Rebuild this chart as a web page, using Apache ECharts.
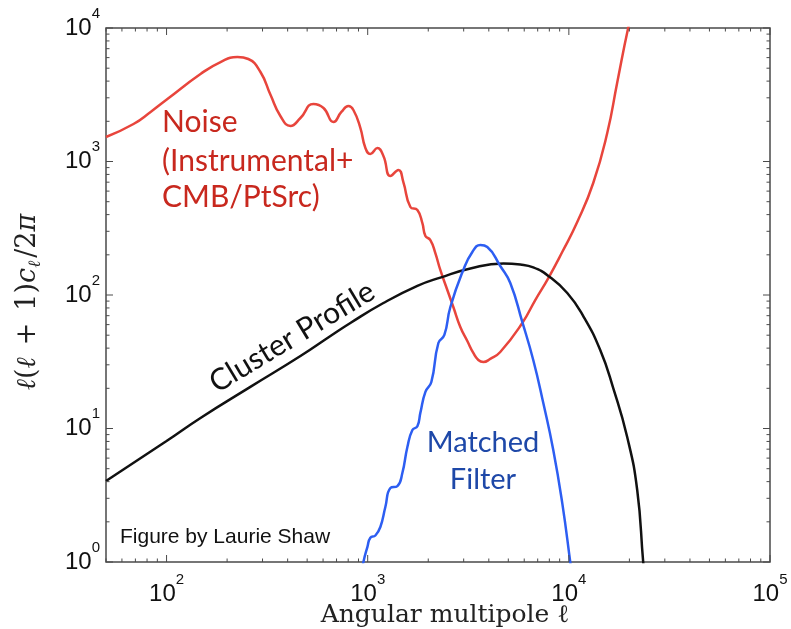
<!DOCTYPE html>
<html><head><meta charset="utf-8">
<script src="https://cdn.jsdelivr.net/npm/echarts@6/dist/echarts.min.js"></script>
<style>html,body{margin:0;padding:0;background:#fff}#c{width:791px;height:629px}</style>
</head><body><div id="c"></div>
<script>
// Noise (Instrumental + CMB/PtSrc)
const noiseL = [50,68.5,83.3,101,147.5,185.5,225,255,293,329,368,413,463,537,603,676,740,802,849,920,974,1031,1117,1197,1297,1421,1504,1630,1766,1870,1936,2049,2169,2296,2488,2665,2887,3128,3350,3548,3758,4069,4560,5868,6808,7907,9270,11010,13220,15520,17380,19720,21500];
const noiseV = [1526,1910,2350,2938,4520,5560,6065,5860,4680,3148,2193,1845,2117,2697,2515,1976,2350,2605,2431,1782,1262,1138,1262,1099,779,864,702,456,433,346,277,258,206,154,109,81.3,57.6,45.2,36.8,32.6,31.5,33.2,37.4,61.7,91.7,134,210,352,690,1634,3873,10000,17000];
// Matched filter
const filterL = [930,952,997,1031,1092,1156,1224,1297,1405,1487,1575,1668,1766,1827,1936,2072,2246,2405,2576,2987,3313,3630,3932,4560,5115,5868,6653,7464,8366,9270,10160,10400];
const filterV = [0.8,1,1.30,1.52,1.58,1.83,2.58,3.58,3.70,4.64,7.27,9.74,10.4,13.1,18.8,22.3,43.7,50.2,81.3,154,210,237,229,165,123,62.8,32.6,15.5,6.90,2.77,1,0.75];
// Cluster profile
const clusterL = [50,100,147.5,261,463,653,820,1197,1766,2296,3238,4722,5736,6653,7907,9820,11790,14320,16620,19500,21870,23420,24200];
const clusterV = [4.04,8.06,12.0,20.5,34.9,49.3,61.7,87.1,117,135,158,172,169,161,139,103.5,69.6,38.7,20.1,8.64,3.46,1,0.6];

const xMin = 50, xMax = 100000, yMin = 1, yMax = 10000;
// tick values (major = powers of ten, minor = 2..9 x 10^n)
const xMajor = [100, 1000, 10000, 100000];
const yMajor = [1, 10, 100, 1000, 10000];
const mult = [2,3,4,5,6,7,8,9];
const xMinor = [], yMinor = [];
[10,100,1000,10000].forEach(d => mult.forEach(m => { const v = m*d; if (v >= xMin && v <= xMax) xMinor.push(v); }));
[1,10,100,1000].forEach(d => mult.forEach(m => yMinor.push(m*d)));

const zip = (a, b) => a.map((v, i) => [v, b[i]]);
const chart = echarts.init(document.getElementById('c'), null, {renderer: 'canvas'});

const frame = '#4a4a4a';
const supRich = {
  b: {fontFamily: 'Liberation Sans', fontSize: 24, lineHeight: 44, color: '#111'},
  s: {fontFamily: 'Liberation Sans', fontSize: 15, height: 15, lineHeight: 44, verticalAlign: 'top', color: '#111'}
};
function powLabel(v) {
  const e = Math.log10(v);
  const r = Math.round(e);
  if (Math.abs(e - r) > 1e-6) return '';
  return '{b|10}{s|' + r + '}';
}

const xTickData = xMajor.map(v => [v, 1, 7]).concat(xMinor.map(v => [v, 1, 3.5]));
const yTickData = yMajor.map(v => [xMin, v, 7]).concat(yMinor.map(v => [xMin, v, 3.5]));

function tickX(params, api) {
  const v = api.value(0), len = api.value(2);
  const b = api.coord([v, yMin]), t = api.coord([v, yMax]);
  const st = {stroke: frame, lineWidth: 1};
  return {type: 'group', children: [
    {type: 'line', shape: {x1: b[0], y1: b[1], x2: b[0], y2: b[1] - len}, style: st},
    {type: 'line', shape: {x1: t[0], y1: t[1], x2: t[0], y2: t[1] + len}, style: st}
  ]};
}
function tickY(params, api) {
  const v = api.value(1), len = api.value(2);
  const l = api.coord([xMin, v]), r = api.coord([xMax, v]);
  const st = {stroke: frame, lineWidth: 1};
  return {type: 'group', children: [
    {type: 'line', shape: {x1: l[0], y1: l[1], x2: l[0] + len, y2: l[1]}, style: st},
    {type: 'line', shape: {x1: r[0], y1: r[1], x2: r[0] - len, y2: r[1]}, style: st}
  ]};
}

const annoFont = 'Lato';
const redText = '#c8281e', blueText = '#1e48a8';
const mathFont = {fontFamily: 'DejaVu Serif', fontSize: 27, color: '#222', lineHeight: 32};
chart.setOption({
  animation: false,
  backgroundColor: '#fff',
  grid: {left: 106, right: 21, top: 28, bottom: 67, containLabel: false, outerBoundsMode: 'none',
         show: true, borderColor: frame, borderWidth: 1.5, backgroundColor: 'transparent'},
  xAxis: {
    type: 'log', logBase: 10, min: xMin, max: xMax,
    axisLine: {show: false}, axisTick: {show: false}, splitLine: {show: false}, minorTick: {show: false},
    axisLabel: {formatter: powLabel, rich: supRich, margin: 10, showMinLabel: true, showMaxLabel: true, hideOverlap: false},
    name: 'Angular multipole ℓ', nameLocation: 'middle', nameGap: 41, nameMoveOverlap: false,
    nameTextStyle: {fontFamily: 'DejaVu Serif', fontSize: 25, color: '#222', padding: [0, 0, 0, 14]}
  },
  yAxis: {
    type: 'log', logBase: 10, min: yMin, max: yMax,
    axisLine: {show: false}, axisTick: {show: false}, splitLine: {show: false}, minorTick: {show: false},
    axisLabel: {formatter: powLabel, rich: supRich, margin: 6, showMinLabel: true, showMaxLabel: true, hideOverlap: false},
    name: '{i|ℓ}{r|(}{i|ℓ}{op|+}{r|1)}{i|c}{sub|ℓ}{r|/2}{end|π}', nameLocation: 'middle', nameGap: 62, nameRotate: 90, nameMoveOverlap: false,
    nameTextStyle: {
      rich: {
        i: Object.assign({}, mathFont, {fontStyle: 'italic'}),
        r: mathFont,
        op: Object.assign({}, mathFont, {padding: [0, 12, 0, 12]}),
        end: Object.assign({}, mathFont, {fontStyle: 'italic', padding: [0, 14, 0, 0]}),
        sub: {fontFamily: 'DejaVu Serif', fontStyle: 'italic', fontSize: 17, color: '#222', verticalAlign: 'bottom', height: 17, lineHeight: 32, padding: [0, 3, 0, 0]}
      }
    }
  },
  series: [
    {type: 'line', name: 'Noise', data: zip(noiseL, noiseV), showSymbol: false, smooth: 0.5, clip: true,
     lineStyle: {color: '#e8453c', width: 2.5}, z: 3},
    {type: 'line', name: 'Cluster Profile', data: zip(clusterL, clusterV), showSymbol: false, smooth: 0.5, clip: true,
     lineStyle: {color: '#111', width: 2.5}, z: 3},
    {type: 'line', name: 'Matched Filter', data: zip(filterL, filterV), showSymbol: false, smooth: 0.5, clip: true,
     lineStyle: {color: '#2d5ef2', width: 2.5}, z: 4},
    {type: 'custom', data: xTickData, renderItem: tickX, silent: true, encode: {x: 0, y: 1}, z: 5, clip: false},
    {type: 'custom', data: yTickData, renderItem: tickY, silent: true, encode: {x: 0, y: 1}, z: 5, clip: false}
  ],
  graphic: [
    {type: 'text', left: 162, top: 107, style: {text: 'Noise', fontFamily: annoFont, fontSize: 30, fill: redText}},
    {type: 'text', left: 162, top: 146, style: {text: '(Instrumental+', fontFamily: annoFont, fontSize: 30, fill: redText}},
    {type: 'text', left: 162, top: 182, style: {text: 'CMB/PtSrc)', fontFamily: annoFont, fontSize: 30, fill: redText}},
    {type: 'text', x: 292, y: 337, rotation: 31 * Math.PI / 180,
     style: {text: 'Cluster Profile', fontFamily: annoFont, fontSize: 30, fill: '#111', align: 'center', verticalAlign: 'middle'}},
    {type: 'text', x: 483, y: 443, style: {text: 'Matched', fontFamily: annoFont, fontSize: 29, fill: blueText, align: 'center', verticalAlign: 'middle'}},
    {type: 'text', x: 483, y: 480, style: {text: 'Filter', fontFamily: annoFont, fontSize: 29, fill: blueText, align: 'center', verticalAlign: 'middle'}},
    {type: 'text', x: 120, y: 537, style: {text: 'Figure by Laurie Shaw', fontFamily: 'Liberation Sans', fontSize: 21, fill: '#111', verticalAlign: 'middle'}}
  ]
});
</script></body></html>
